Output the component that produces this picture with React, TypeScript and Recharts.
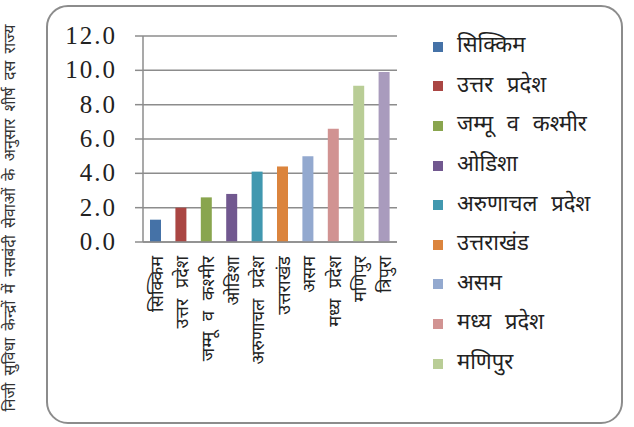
import React from "react";
import { BarChart, Bar, XAxis, YAxis, CartesianGrid, Cell, Legend } from "recharts";

const states = [
  "सिक्किम",
  "उत्तर प्रदेश",
  "जम्मू व कश्मीर",
  "ओडिशा",
  "अरुणाचल प्रदेश",
  "उत्तराखंड",
  "असम",
  "मध्य प्रदेश",
  "मणिपुर",
  "त्रिपुरा",
];
const values = [1.3, 2.0, 2.6, 2.8, 4.1, 4.4, 5.0, 6.6, 9.1, 9.9];
const colors = [
  "#4572A7",
  "#AA4643",
  "#89A54E",
  "#71588F",
  "#4198AF",
  "#DB843D",
  "#93A9CF",
  "#D19392",
  "#B9CD96",
  "#A99BBD",
];
const yTicks = [0, 2, 4, 6, 8, 10, 12];
const boundaryTicks = [0, 1, 2, 3, 4, 5, 6, 7, 8, 9, 10];
const yTitle = "निजी सुविधा केन्द्रों में नसबंदी सेवाओं के अनुसार शीर्ष दस राज्य";
const legendCount = 9;

const data = states.map((s, i) => ({ name: s, value: values[i], idx: i }));

const DEV = "'Noto Sans Devanagari', 'Lohit Devanagari', 'Noto Sans', sans-serif";

const XTick = (props: any) => {
  const { x, y, payload } = props;
  return (
    <text
      x={0}
      y={0}
      transform={`translate(${x + 7},${y}) rotate(-90)`}
      textAnchor="end"
      fontSize={18}
      fill="#222"
      fontFamily={DEV}
      style={{ wordSpacing: 6 }}
    >
      {payload.value}
    </text>
  );
};

const YTick = (props: any) => {
  const { x, y, payload } = props;
  return (
    <text
      x={x}
      y={y}
      dy={8}
      textAnchor="end"
      fontSize={25}
      fill="#222"
      fontFamily="'Liberation Serif', serif"
      style={{ letterSpacing: 2 }}
    >
      {payload.value.toFixed(1)}
    </text>
  );
};

const LegendContent = () => (
  <div style={{ fontFamily: DEV }}>
    {states.slice(0, legendCount).map((s, i) => (
      <div
        key={s}
        style={{ display: "flex", alignItems: "center", height: 39.6 }}
      >
        <span
          style={{
            display: "inline-block",
            width: 10,
            height: 10,
            background: colors[i],
            marginRight: 14,
          }}
        />
        <span style={{ fontSize: 22, color: "#222", whiteSpace: "nowrap", wordSpacing: 8 }}>{s}</span>
      </div>
    ))}
  </div>
);

export default function App() {
  return (
    <div style={{ position: "absolute", left: 0, top: 0, width: 634, height: 427, background: "#fff", overflow: "hidden" }}>
      <div
        style={{
          position: "absolute",
          left: 46,
          top: 5,
          width: 577,
          height: 419,
          boxSizing: "border-box",
          border: "2px solid #8c8c8c",
          borderRadius: 22,
        }}
      />
      <div
        style={{
          position: "absolute",
          left: 12 - 210,
          top: 218 - 10,
          width: 420,
          height: 20,
          transform: "rotate(-90deg)",
          textAlign: "center",
          fontFamily: DEV,
          fontSize: 16,
          color: "#333",
          whiteSpace: "nowrap",
          lineHeight: "20px",
          wordSpacing: 3,
        }}
      >
        {yTitle}
      </div>
      <div style={{ position: "absolute", left: 0, top: 0 }}>
        <BarChart
          width={634}
          height={427}
          data={data}
          margin={{ top: 36, right: 237, bottom: 30, left: 83 }}
          barSize={11}
        >
          <CartesianGrid horizontal vertical={false} stroke="#8c8c8c" strokeWidth={1.5} />
          <XAxis
            xAxisId="b"
            type="number"
            dataKey="idx"
            domain={[0, 10]}
            ticks={boundaryTicks}
            tick={false}
            tickSize={5}
            tickLine={{ stroke: "#8c8c8c", strokeWidth: 1.5 }}
            axisLine={{ stroke: "#8c8c8c", strokeWidth: 1.5 }}
            height={5}
            allowDataOverflow
          />
          <XAxis
            xAxisId="cat"
            dataKey="name"
            interval={0}
            tickLine={false}
            axisLine={false}
            tick={<XTick />}
            height={150}
            tickSize={0}
            tickMargin={9}
          />
          <YAxis
            domain={[0, 12]}
            ticks={yTicks}
            interval={0}
            width={60}
            tick={<YTick />}
            tickSize={8}
            tickMargin={18}
            tickLine={{ stroke: "#8c8c8c", strokeWidth: 1.5 }}
            axisLine={{ stroke: "#8c8c8c", strokeWidth: 1.5 }}
          />
          <Legend
            content={<LegendContent />}
            layout="horizontal"
            verticalAlign="middle"
            align="center"
            wrapperStyle={{ position: "absolute", left: 433, top: 27, width: 190 }}
          />
          <Bar xAxisId="cat" dataKey="value" isAnimationActive={false}>
            {data.map((d, i) => (
              <Cell key={d.name} fill={colors[i]} />
            ))}
          </Bar>
        </BarChart>
      </div>
    </div>
  );
}
